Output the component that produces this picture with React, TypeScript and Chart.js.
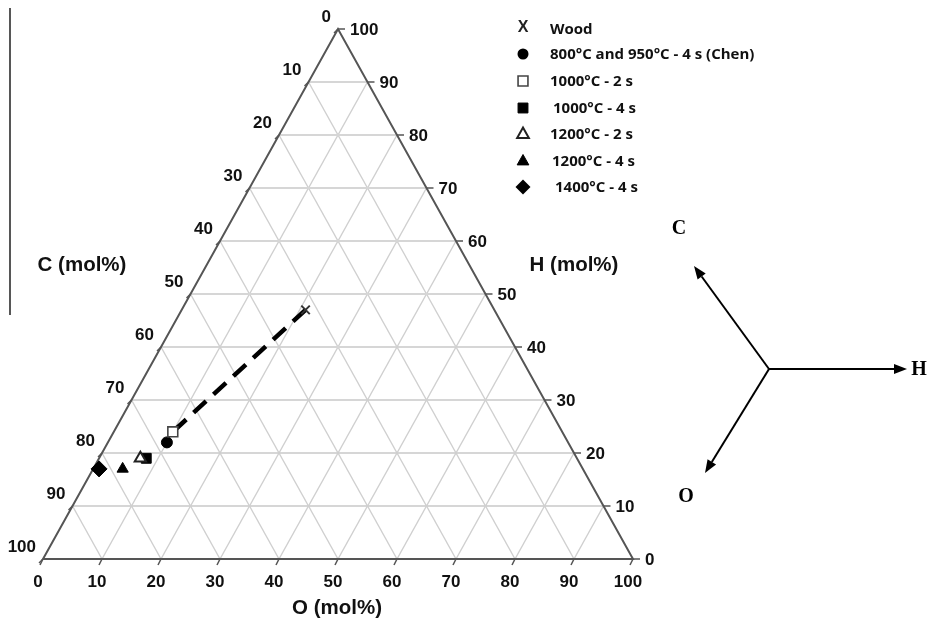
import React, { useEffect, useRef } from "react";
import { Chart, registerables } from "chart.js";

Chart.register(...registerables);

// ---- data ----
const categories = [
  "Wood",
  "800°C and 950°C - 4 s (Chen)",
  "1000°C - 2 s",
  "1000°C - 4 s",
  "1200°C - 2 s",
  "1200°C - 4 s",
  "1400°C - 4 s",
];
const cValues = [32, 68, 66, 73, 74, 78, 82]; // C (mol%)
const hValues = [47, 22, 24, 19, 19, 17, 17]; // H (mol%)
const oValues = [21, 10, 10, 8, 7, 5, 1]; // O (mol%)
const trendIndices = [0, 2]; // dashed trend: Wood -> 1000°C - 2 s
const tickValues = [0, 10, 20, 30, 40, 50, 60, 70, 80, 90, 100];
const gridValues = [10, 20, 30, 40, 50, 60, 70, 80, 90];
const axisTitles = ["C (mol%)", "H (mol%)", "O (mol%)"];
const directionLabels = ["C", "H", "O"];

// ---- styles ----
const markerStyles = [
  { pointStyle: "crossRot", radius: 6, fill: "#333", stroke: "#333", width: 2 },
  { pointStyle: "circle", radius: 5.5, fill: "#000", stroke: "#000", width: 1 },
  { pointStyle: "rect", radius: 7, fill: "#fff", stroke: "#444", width: 1.6 },
  { pointStyle: "rect", radius: 7, fill: "#000", stroke: "#000", width: 1 },
  { pointStyle: "triangle", radius: 6.5, fill: "#fff", stroke: "#222", width: 2 },
  { pointStyle: "triangle", radius: 6.5, fill: "#000", stroke: "#000", width: 1 },
  { pointStyle: "rectRot", radius: 8, fill: "#000", stroke: "#000", width: 1 },
];
const drawOrder = [2, 3, 1, 5, 3, 4, 4];

const toXY = (o: number, h: number) => ({ x: o + h / 2, y: h });

function drawShape(ctx: CanvasRenderingContext2D, style: string, x: number, y: number, r: number, fill: string, stroke: string, width: number) {
  ctx.save();
  ctx.fillStyle = fill;
  ctx.strokeStyle = stroke;
  ctx.lineWidth = width;
  ctx.beginPath();
  if (style === "circle") {
    ctx.arc(x, y, r, 0, Math.PI * 2);
    ctx.fill();
  } else if (style === "rect") {
    const s = r * Math.SQRT1_2;
    ctx.rect(x - s, y - s, 2 * s, 2 * s);
    ctx.fill();
    ctx.stroke();
  } else if (style === "triangle") {
    ctx.moveTo(x, y - r);
    ctx.lineTo(x + r * 0.9, y + r * 0.6);
    ctx.lineTo(x - r * 0.9, y + r * 0.6);
    ctx.closePath();
    ctx.fill();
    ctx.stroke();
  } else if (style === "rectRot") {
    ctx.moveTo(x, y - r);
    ctx.lineTo(x + r, y);
    ctx.lineTo(x, y + r);
    ctx.lineTo(x - r, y);
    ctx.closePath();
    ctx.fill();
  }
  ctx.restore();
}

const ternaryPlugin = {
  id: "ternary",
  beforeDatasetsDraw(chart: any) {
    const ctx: CanvasRenderingContext2D = chart.ctx;
    const xs = chart.scales.x;
    const ys = chart.scales.y;
    const P = (o: number, h: number) => {
      const p = toXY(o, h);
      return [xs.getPixelForValue(p.x), ys.getPixelForValue(p.y)];
    };
    const line = (a: number[], b: number[]) => {
      ctx.beginPath();
      ctx.moveTo(a[0], a[1]);
      ctx.lineTo(b[0], b[1]);
      ctx.stroke();
    };
    ctx.save();
    // grid
    ctx.lineCap = "butt";
    gridValues.forEach((k) => {
      ctx.strokeStyle = "#d6d6d6";
      ctx.lineWidth = 2;
      line(P(0, k), P(100 - k, k)); // H const
      ctx.strokeStyle = "#cfcfcf";
      ctx.lineWidth = 1.4;
      line(P(k, 0), P(k, 100 - k)); // O const
      line(P(100 - k, 0), P(0, 100 - k)); // C const
    });
    // edges
    ctx.strokeStyle = "#555";
    ctx.lineWidth = 2;
    ctx.beginPath();
    const a = P(0, 0), b = P(100, 0), c = P(0, 100);
    ctx.moveTo(a[0], a[1]);
    ctx.lineTo(b[0], b[1]);
    ctx.lineTo(c[0], c[1]);
    ctx.closePath();
    ctx.stroke();
    // ticks + labels
    ctx.fillStyle = "#111";
    ctx.font = 'bold 17px "Liberation Sans", Arial, sans-serif';
    ctx.lineWidth = 1.5;
    ctx.strokeStyle = "#555";
    tickValues.forEach((v) => {
      // left axis: C, point where O = 0, H = 100 - C
      let p = P(0, 100 - v);
      line(p, [p[0] - 4, p[1] + 4]);
      ctx.textAlign = "right";
      ctx.textBaseline = "middle";
      ctx.fillText(String(v), p[0] - 7, p[1] - 12);
      // right axis: H, point where O = 100 - H
      p = P(100 - v, v);
      line(p, [p[0] + 7, p[1]]);
      ctx.textAlign = "left";
      ctx.fillText(String(v), p[0] + 12, p[1] + 1);
      // bottom axis: O
      p = P(v, 0);
      line(p, [p[0] - 3, p[1] + 6]);
      ctx.textAlign = "center";
      ctx.fillText(String(v), p[0] - 5, p[1] + 23);
    });
    // axis titles
    ctx.font = 'bold 20.5px "Liberation Sans", Arial, sans-serif';
    ctx.textAlign = "center";
    ctx.textBaseline = "middle";
    const ca = chart.chartArea;
    ctx.fillText(axisTitles[0], ca.left + 39, ys.getPixelForValue(55.5));
    ctx.fillText(axisTitles[1], ca.right - 59, ys.getPixelForValue(55.5));
    ctx.fillText(axisTitles[2], xs.getPixelForValue(50) - 1, ca.bottom + 49);
    ctx.restore();
  },
  afterDraw(chart: any) {
    const ctx: CanvasRenderingContext2D = chart.ctx;
    ctx.save();
    // stray frame line at left
    ctx.strokeStyle = "#444";
    ctx.lineWidth = 1.8;
    ctx.beginPath();
    ctx.moveTo(10, 8);
    ctx.lineTo(10, 315);
    ctx.stroke();

    // legend
    const lx = 523;
    const rows = [29, 54, 81, 108, 134, 161, 187];
    const textX = [550, 550, 550, 553, 550, 552, 555];
    categories.forEach((label, i) => {
      const s = markerStyles[i];
      const y = rows[i];
      if (s.pointStyle === "crossRot") {
        ctx.fillStyle = "#222";
        ctx.font = 'bold 16px "Liberation Sans", Arial, sans-serif';
        ctx.textAlign = "center";
        ctx.textBaseline = "middle";
        ctx.fillText("X", lx, y - 1);
      } else {
        const r = s.pointStyle === "triangle" ? 6.5 : s.pointStyle === "rectRot" ? 7.5 : s.pointStyle === "rect" ? 7 : 5.5;
        drawShape(ctx, s.pointStyle, lx, y, r, s.fill, s.stroke, s.width);
      }
      ctx.fillStyle = "#111";
      ctx.font = 'bold 15px "Open Sans", sans-serif';
      ctx.textAlign = "left";
      ctx.textBaseline = "middle";
      ctx.fillText(label, textX[i], y + 1);
    });

    // direction diagram
    const cx = 769, cy = 369;
    const tips = [[694, 266], [907, 369], [705, 473]];
    ctx.strokeStyle = "#000";
    ctx.fillStyle = "#000";
    ctx.lineWidth = 2;
    tips.forEach(([tx, ty]) => {
      const ang = Math.atan2(ty - cy, tx - cx);
      const hl = 13, hw = 5;
      const bx = tx - hl * Math.cos(ang), by = ty - hl * Math.sin(ang);
      ctx.beginPath();
      ctx.moveTo(cx, cy);
      ctx.lineTo(bx, by);
      ctx.stroke();
      ctx.beginPath();
      ctx.moveTo(tx, ty);
      ctx.lineTo(bx - hw * Math.sin(ang), by + hw * Math.cos(ang));
      ctx.lineTo(bx + hw * Math.sin(ang), by - hw * Math.cos(ang));
      ctx.closePath();
      ctx.fill();
    });
    ctx.font = 'bold 20px "Liberation Serif", "Times New Roman", serif';
    ctx.textAlign = "center";
    ctx.textBaseline = "middle";
    ctx.fillText(directionLabels[0], 679, 229);
    ctx.fillText(directionLabels[1], 919, 370);
    ctx.fillText(directionLabels[2], 686, 497);
    ctx.restore();
  },
};

export default function App() {
  const ref = useRef<HTMLCanvasElement | null>(null);
  useEffect(() => {
    if (!ref.current) return;
    const pointSets = categories.map((label, i) => {
      const s = markerStyles[i];
      return {
        type: "scatter" as const,
        label,
        data: [toXY(oValues[i], hValues[i])],
        pointStyle: s.pointStyle,
        pointRadius: s.radius,
        pointBackgroundColor: s.fill,
        pointBorderColor: s.stroke,
        pointBorderWidth: s.width,
        order: drawOrder[i],
      };
    });
    const trend = {
      type: "line" as const,
      label: "trend",
      data: trendIndices.map((i) => toXY(oValues[i], hValues[i])),
      borderColor: "#000",
      borderWidth: 4.5,
      borderDash: [17, 10],
      pointRadius: 0,
      fill: false,
      order: 10,
    };
    const chart = new Chart(ref.current, {
      type: "scatter",
      data: { datasets: [trend as any, ...pointSets] },
      options: {
        responsive: false,
        animation: false,
        layout: { padding: { left: 43, right: 295, top: 29, bottom: 66 } },
        scales: {
          x: { type: "linear", min: 0, max: 100, display: false },
          y: { type: "linear", min: 0, max: 100, display: false },
        },
        plugins: { legend: { display: false }, tooltip: { enabled: false } },
      },
      plugins: [ternaryPlugin],
    });
    return () => chart.destroy();
  }, []);
  return (
    <div style={{ position: "fixed", left: 0, top: 0, width: 928, height: 625, background: "#fff" }}>
      <canvas ref={ref} width={928} height={625} />
    </div>
  );
}
